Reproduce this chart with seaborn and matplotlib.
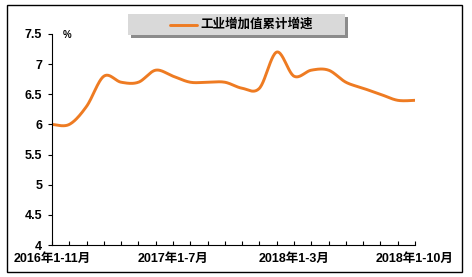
import numpy as np
import pandas as pd
import matplotlib
matplotlib.use("Agg")
import matplotlib.pyplot as plt
import seaborn as sns
from matplotlib.patches import Rectangle
from matplotlib.lines import Line2D

categories = ["2016年1-11月", "2016年1-12月",
              "2017年1-2月", "2017年1-3月", "2017年1-4月", "2017年1-5月", "2017年1-6月",
              "2017年1-7月", "2017年1-8月", "2017年1-9月", "2017年1-10月", "2017年1-11月",
              "2017年1-12月",
              "2018年1-2月", "2018年1-3月", "2018年1-4月", "2018年1-5月", "2018年1-6月",
              "2018年1-7月", "2018年1-8月", "2018年1-9月", "2018年1-10月"]
values = [6.0, 6.0, 6.3, 6.8, 6.7, 6.7, 6.9, 6.8, 6.7, 6.7, 6.7, 6.6, 6.6,
          7.2, 6.8, 6.9, 6.9, 6.7, 6.6, 6.5, 6.4, 6.4]
shown_labels = ["2016年1-11月", "2017年1-7月", "2018年1-3月", "2018年1-10月"]
series_name = "工业增加值累计增速"
y_ticks = [4, 4.5, 5, 5.5, 6, 6.5, 7, 7.5]
y_ticklabels = ["4", "4.5", "5", "5.5", "6", "6.5", "7", "7.5"]

sns.set_theme(style="white")
plt.rcParams['font.family'] = ['Liberation Sans', 'Noto Sans CJK SC']
plt.rcParams['font.weight'] = 'bold'

W, H = 472, 277
fig = plt.figure(figsize=(W / 100, H / 100), dpi=100)
fig.patch.set_facecolor("white")

# Excel-like smoothed line (Catmull-Rom Bezier) built from the data
xs = np.arange(len(values), dtype=float)
ys = np.array(values, dtype=float)
px = np.concatenate([[xs[0]], xs, [xs[-1]]])
py = np.concatenate([[ys[0]], ys, [ys[-1]]])
cx, cy = [], []
t = np.linspace(0, 1, 25)
for i in range(len(xs) - 1):
    p0 = np.array([px[i + 1], py[i + 1]])
    p3 = np.array([px[i + 2], py[i + 2]])
    b1 = p0 + (p3 - np.array([px[i], py[i]])) / 6
    b2 = p3 - (np.array([px[i + 3], py[i + 3]]) - p0) / 6
    seg = ((1 - t) ** 3)[:, None] * p0 + (3 * (1 - t) ** 2 * t)[:, None] * b1 \
        + (3 * (1 - t) * t ** 2)[:, None] * b2 + (t ** 3)[:, None] * p3
    if i > 0:
        seg = seg[1:]
    cx.extend(seg[:, 0]); cy.extend(seg[:, 1])
df = pd.DataFrame({"x": cx, "y": cy})

ax = fig.add_axes([52 / W, 1 - 245 / H, (415 - 52) / W, (245 - 34) / H])
line_color = "#EE7B22"
sns.lineplot(data=df, x="x", y="y", sort=False, ax=ax, color=line_color,
             linewidth=2.1, legend=False)

ax.set_xlim(0, len(values) - 1)
ax.set_ylim(4, 7.5)
ax.set_xlabel("")
ax.set_ylabel("")
ax.set_xticks(xs)
ax.set_xticklabels([c if c in shown_labels else "" for c in categories])
ax.set_yticks(y_ticks)
ax.set_yticklabels(y_ticklabels)
for s in ["top", "right"]:
    ax.spines[s].set_visible(False)
for s in ["left", "bottom"]:
    ax.spines[s].set_color("black")
    ax.spines[s].set_linewidth(0.8)
ax.tick_params(axis="x", direction="in", length=3, width=0.8, color="black",
               labelsize=9, pad=6, bottom=True)
ax.tick_params(axis="y", direction="out", length=3, width=0.8, color="black",
               labelsize=9, pad=4, left=True)
for lab in ax.get_xticklabels() + ax.get_yticklabels():
    lab.set_fontweight("bold")
    lab.set_color("black")
ax.grid(False)
ax.patch.set_alpha(0)

ax.text((67 - 52) / (415 - 52), (245 - 35) / (245 - 34), "%", transform=ax.transAxes,
        fontsize=7, fontweight="bold", ha="center", va="center", color="black")

# legend box with shadow
def fx(p): return p / W
def fy(p): return 1 - p / H
fig.patches.append(Rectangle((fx(131), fy(38)), fx(345) - fx(128), fy(14) - fy(35),
                             transform=fig.transFigure, facecolor="#8c8c8c",
                             edgecolor="none", zorder=1))
fig.patches.append(Rectangle((fx(128), fy(35)), fx(345) - fx(128), fy(14) - fy(35),
                             transform=fig.transFigure, facecolor="#d9d9d9",
                             edgecolor="none", zorder=2))
fig.lines.append(Line2D([fx(170), fx(197)], [fy(24.5), fy(24.5)], transform=fig.transFigure,
                        color=line_color, linewidth=2.1, zorder=3))
fig.text(fx(200), fy(24.5), series_name, fontsize=9, fontweight="bold", color="black",
         ha="left", va="center", zorder=4)

# outer border
fig.patches.append(Rectangle((fx(7), fy(272)), fx(462) - fx(7), fy(5) - fy(272),
                             transform=fig.transFigure, facecolor="none",
                             edgecolor="black", linewidth=1.0, zorder=5))

fig.savefig("out.png", dpi=100)
